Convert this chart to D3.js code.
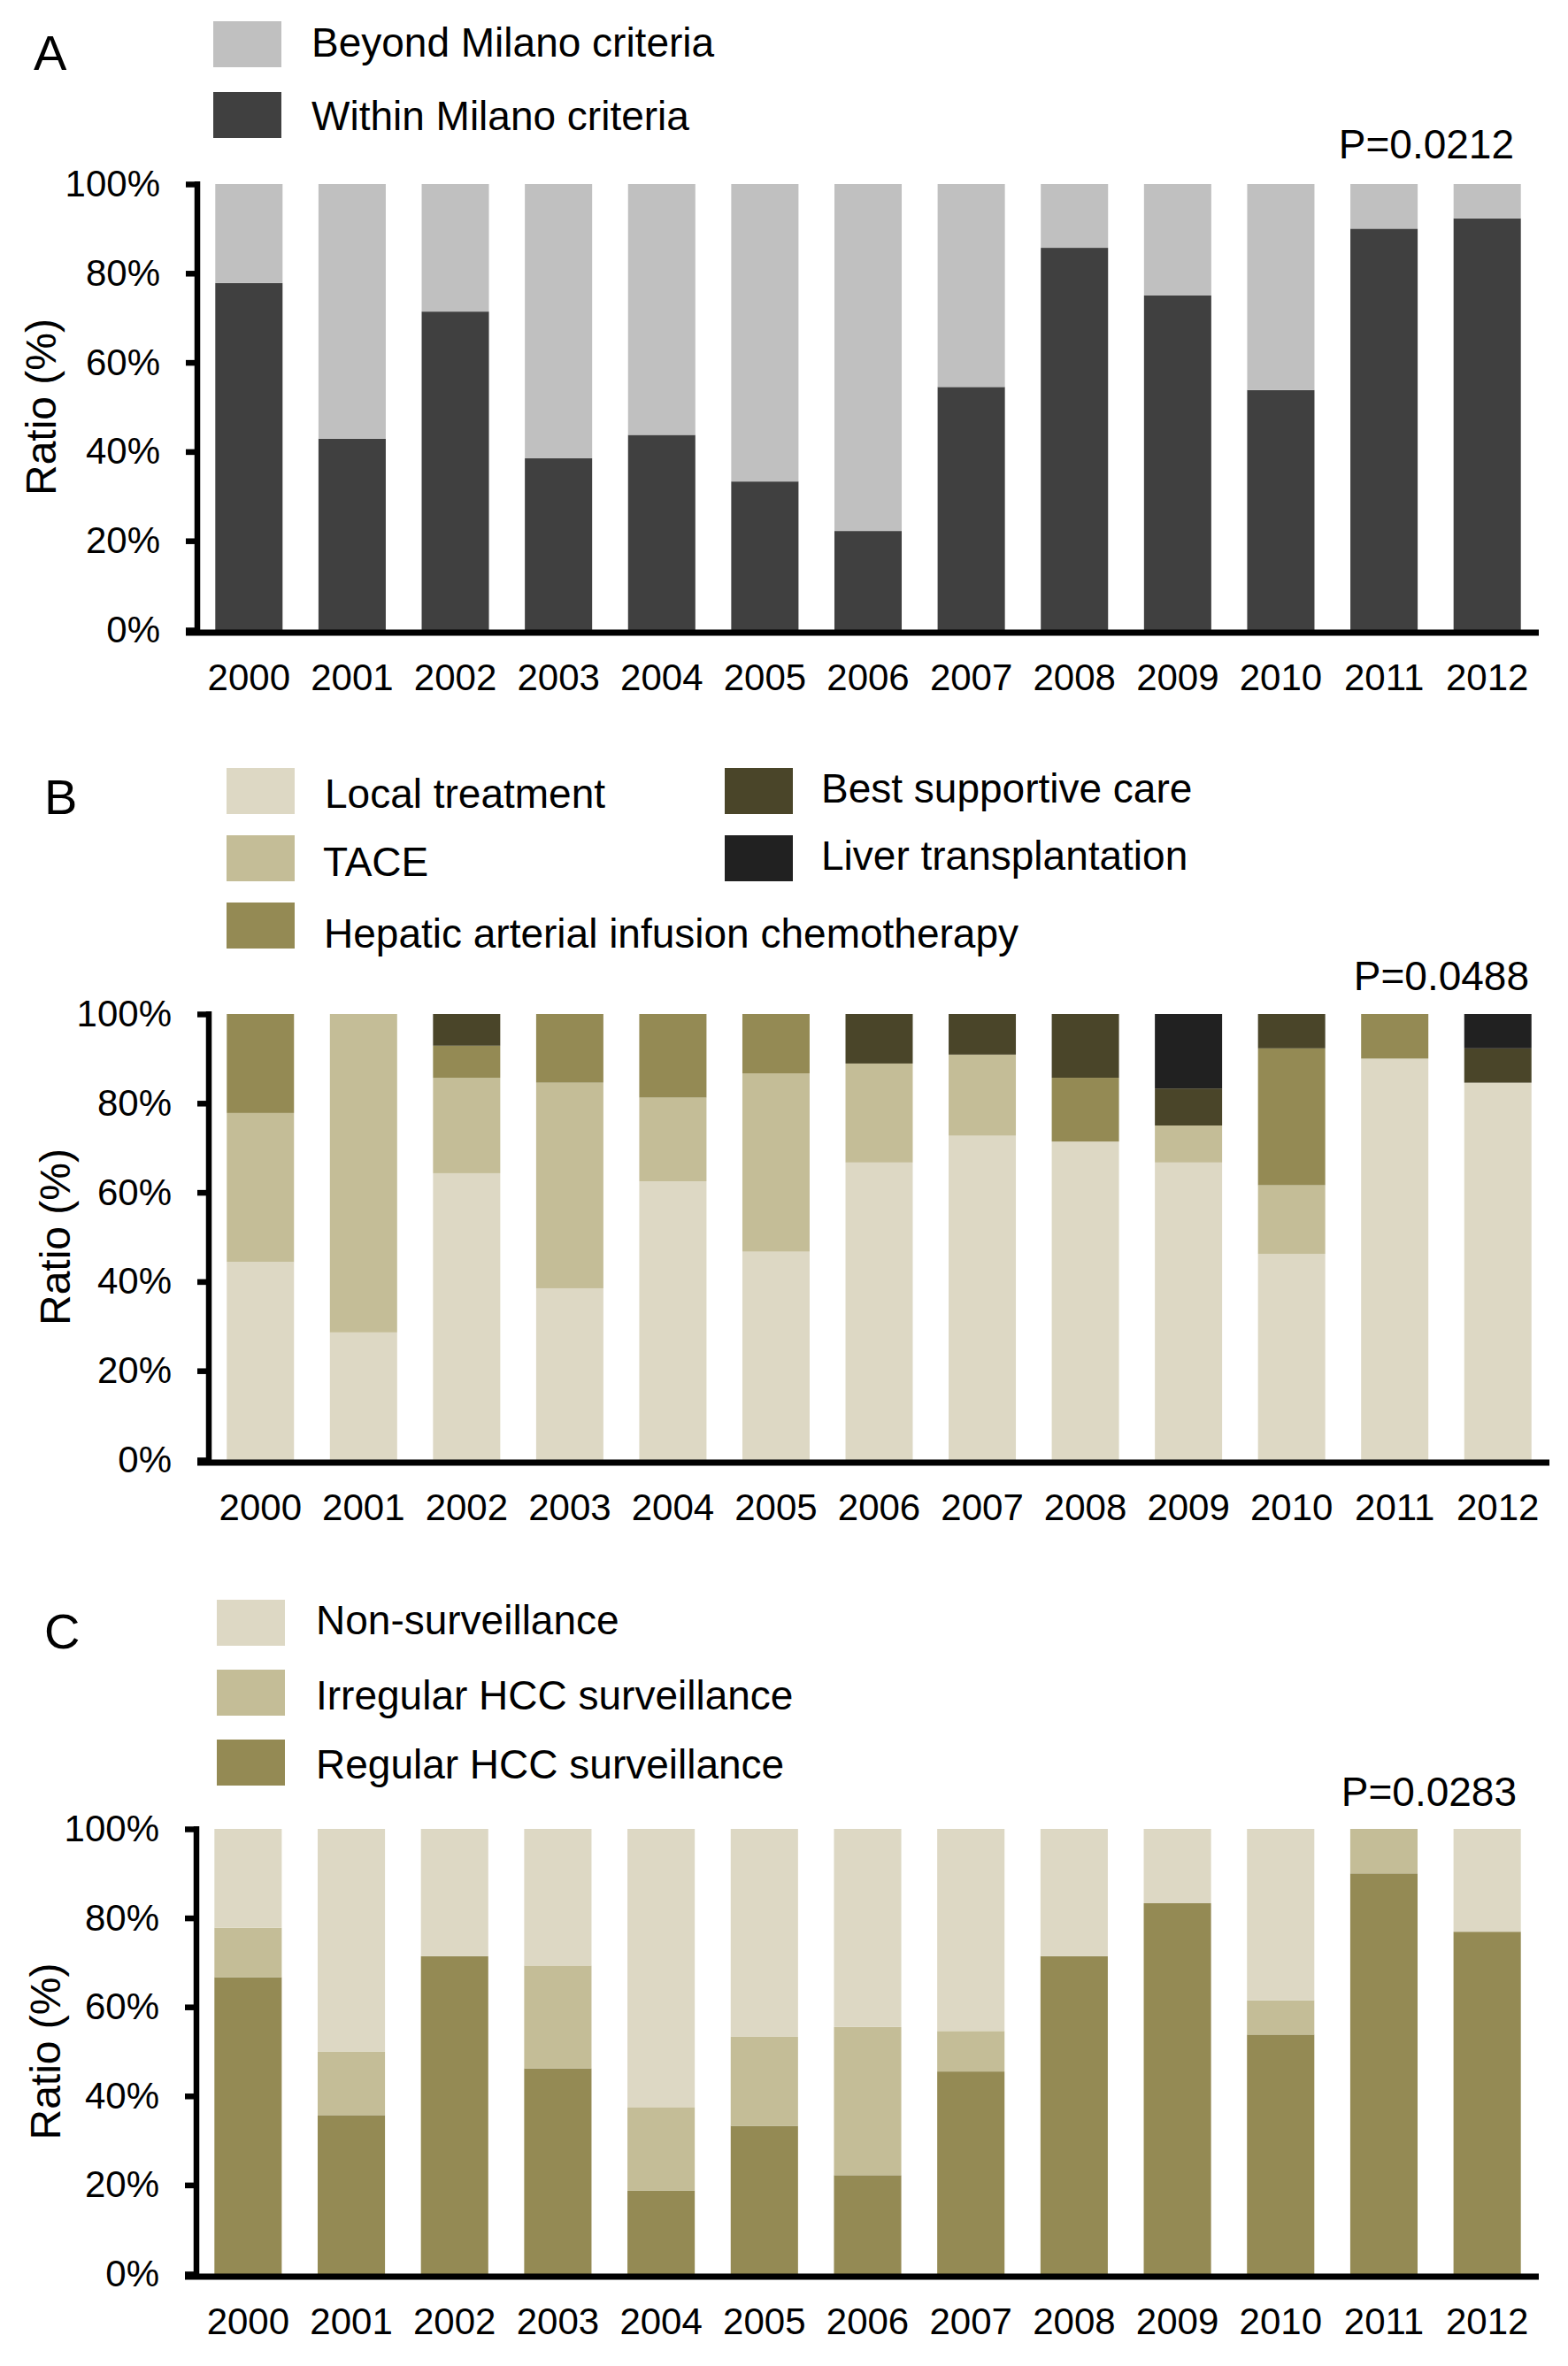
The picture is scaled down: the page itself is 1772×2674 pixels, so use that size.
<!DOCTYPE html>
<html>
<head>
  <title>HCC treatment ratios by year</title>
  <style>
    body { margin: 0; background: #fff; }
    text { font-family: "Liberation Sans", Arial, sans-serif; fill: #000; }
  </style>
</head>
<body>
  <svg id="chart" width="1772" height="2674"></svg>
  <script src="https://d3js.org/d3.v7.min.js"></script>
  <script>
    const years = ["2000", "2001", "2002", "2003", "2004", "2005", "2006",
                   "2007", "2008", "2009", "2010", "2011", "2012"];
    const yTicks = [0, 20, 40, 60, 80, 100];

    // panel A - Milano criteria (%)
    const withinMilano = [77.8, 42.9, 71.4, 38.5, 43.75, 33.3, 22.2, 54.5, 85.7, 75.0, 53.8, 90.0, 92.3];
    const beyondMilano = [22.2, 57.1, 28.6, 61.5, 56.25, 66.7, 77.8, 45.5, 14.3, 25.0, 46.2, 10.0, 7.7];

    // panel B - treatment (%)
    const localTreatment = [44.4, 28.6, 64.3, 38.5, 62.5, 46.7, 66.7, 72.7, 71.4, 66.7, 46.2, 90.0, 84.6];
    const tace           = [33.4, 71.4, 21.4, 46.1, 18.75, 40.0, 22.2, 18.2, 0, 8.3, 15.4, 0, 0];
    const haic           = [22.2, 0, 7.2, 15.4, 18.75, 13.3, 0, 0, 14.3, 0, 30.7, 10.0, 0];
    const supportive     = [0, 0, 7.1, 0, 0, 0, 11.1, 9.1, 14.3, 8.3, 7.7, 0, 7.7];
    const transplant     = [0, 0, 0, 0, 0, 0, 0, 0, 0, 16.7, 0, 0, 7.7];

    // panel C - surveillance (%)
    const regularSurv   = [66.7, 35.7, 71.4, 46.2, 18.75, 33.3, 22.2, 45.5, 71.4, 83.3, 53.8, 90.0, 76.9];
    const irregularSurv = [11.1, 14.3, 0, 23.1, 18.75, 20.0, 33.3, 9.1, 0, 0, 7.7, 10.0, 0];
    const nonSurv       = [22.2, 50.0, 28.6, 30.7, 62.5, 46.7, 44.5, 45.4, 28.6, 16.7, 38.5, 0, 23.1];

    const svg = d3.select("#chart");
    const font = "Liberation Sans, Arial, sans-serif";

    function drawPanel(p) {
      // rows for d3.stack
      const rows = years.map((yr, i) => {
        const r = {year: yr};
        p.series.forEach(s => { r[s.key] = s.values[i]; });
        return r;
      });
      const keys = p.series.map(s => s.key);
      const color = d3.scaleOrdinal().domain(keys).range(p.series.map(s => s.color));
      const stacked = d3.stack().keys(keys)(rows);

      const x = d3.scaleBand().domain(years)
        .range([p.axisX, p.axisEnd])
        .paddingInner(0.348).paddingOuter(0.174);
      const y = d3.scaleLinear().domain([0, 100]).range([p.bottom, p.top]);

      const g = svg.append("g");

      g.selectAll("g.layer")
        .data(stacked)
        .enter().append("g")
        .attr("class", "layer")
        .attr("fill", d => color(d.key))
        .selectAll("rect")
        .data(d => d)
        .enter().append("rect")
        .attr("x", d => x(d.data.year))
        .attr("width", x.bandwidth())
        .attr("y", d => y(d[1]))
        .attr("height", d => y(d[0]) - y(d[1]));

      // y axis
      const ya = g.append("g")
        .attr("transform", "translate(" + p.axisX + ",0)")
        .call(d3.axisLeft(y).tickValues(yTicks).tickFormat(d => d + "%")
              .tickSize(13).tickSizeOuter(0).tickPadding(29));
      ya.select(".domain").attr("stroke", "#000").attr("stroke-width", 6.5)
        .attr("d", "M0," + (p.top - 3) + "V" + (p.bottom + 3));
      ya.selectAll(".tick line").attr("stroke", "#000").attr("stroke-width", 6.5);
      ya.selectAll(".tick text").attr("font-size", 42).style("font-family", font);

      // x axis
      const xa = g.append("g")
        .attr("transform", "translate(0," + p.bottom + ")")
        .call(d3.axisBottom(x).tickSize(0));
      xa.select(".domain").remove();
      xa.selectAll(".tick text")
        .attr("y", 53).attr("dy", "0.36em")
        .attr("font-size", 42).style("font-family", font);
      g.append("line")
        .attr("x1", p.axisX - 13).attr("x2", p.axisEnd)
        .attr("y1", p.bottom + 3).attr("y2", p.bottom + 3)
        .attr("stroke", "#000").attr("stroke-width", 7);

      // y label
      g.append("text")
        .attr("transform", "translate(" + p.labelX + "," + ((p.top + p.bottom) / 2) + ") rotate(-90)")
        .attr("text-anchor", "middle")
        .attr("dy", "0.36em")
        .attr("font-size", 48)
        .text("Ratio (%)");

      // panel letter
      g.append("text")
        .attr("x", p.letter[0]).attr("y", p.letter[1])
        .attr("dy", "0.36em")
        .attr("font-size", 56)
        .text(p.letterText);

      // p value
      g.append("text")
        .attr("x", p.pPos[0]).attr("y", p.pPos[1])
        .attr("dy", "0.36em")
        .attr("text-anchor", "end")
        .attr("font-size", 46)
        .text(p.pText);

      // legend
      p.legend.forEach(l => {
        const s = p.series.find(d => d.key === l.key);
        g.append("rect")
          .attr("x", l.x).attr("y", l.y - 26)
          .attr("width", 77).attr("height", 52)
          .attr("fill", s.color);
        g.append("text")
          .attr("x", l.tx).attr("y", l.ty)
          .attr("dy", "0.36em")
          .attr("font-size", 46)
          .text(s.label);
      });
    }

    drawPanel({
      letterText: "A", letter: [38, 59], pText: "P=0.0212", pPos: [1711, 162],
      axisX: 223, axisEnd: 1739, top: 208, bottom: 712, labelX: 46,
      series: [
        {key: "within", label: "Within Milano criteria", values: withinMilano, color: "#404040"},
        {key: "beyond", label: "Beyond Milano criteria", values: beyondMilano, color: "#c0c0c0"}
      ],
      legend: [
        {key: "beyond", x: 241, y: 50, tx: 352, ty: 47},
        {key: "within", x: 241, y: 130, tx: 352, ty: 130}
      ]
    });

    drawPanel({
      letterText: "B", letter: [50, 900], pText: "P=0.0488", pPos: [1728, 1102],
      axisX: 236, axisEnd: 1751, top: 1146, bottom: 1650, labelX: 62,
      series: [
        {key: "local", label: "Local treatment", values: localTreatment, color: "#ddd8c4"},
        {key: "tace", label: "TACE", values: tace, color: "#c4bd97"},
        {key: "haic", label: "Hepatic arterial infusion chemotherapy", values: haic, color: "#948a54"},
        {key: "bsc", label: "Best supportive care", values: supportive, color: "#4a4529"},
        {key: "lt", label: "Liver transplantation", values: transplant, color: "#212121"}
      ],
      legend: [
        {key: "local", x: 256, y: 894, tx: 367, ty: 896},
        {key: "tace", x: 256, y: 970, tx: 365, ty: 973},
        {key: "haic", x: 256, y: 1046, tx: 366, ty: 1054},
        {key: "bsc", x: 819, y: 894, tx: 928, ty: 890},
        {key: "lt", x: 819, y: 970, tx: 928, ty: 966}
      ]
    });

    drawPanel({
      letterText: "C", letter: [50, 1843], pText: "P=0.0283", pPos: [1714, 2024],
      axisX: 222, axisEnd: 1739, top: 2067, bottom: 2570, labelX: 51,
      series: [
        {key: "regular", label: "Regular HCC surveillance", values: regularSurv, color: "#948a54"},
        {key: "irregular", label: "Irregular HCC surveillance", values: irregularSurv, color: "#c4bd97"},
        {key: "non", label: "Non-surveillance", values: nonSurv, color: "#ddd8c4"}
      ],
      legend: [
        {key: "non", x: 245, y: 1834, tx: 357, ty: 1830},
        {key: "irregular", x: 245, y: 1913, tx: 357, ty: 1915},
        {key: "regular", x: 245, y: 1992, tx: 357, ty: 1993}
      ]
    });
  </script>
</body>
</html>
